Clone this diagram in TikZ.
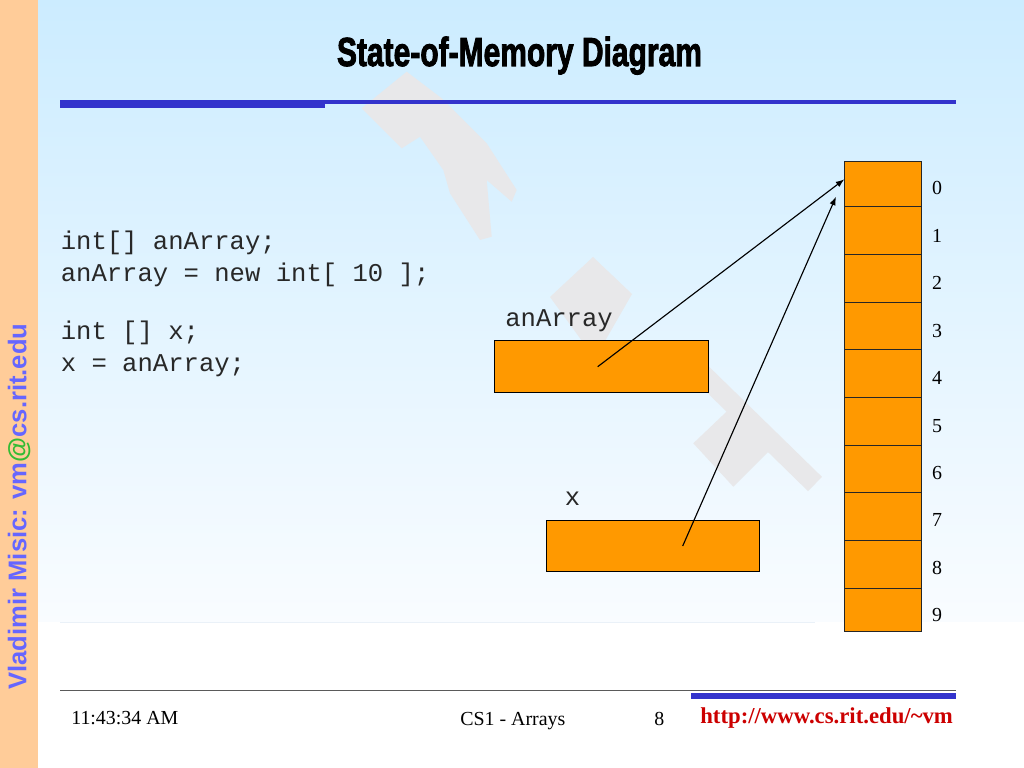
\documentclass[tikz,border=0pt]{standalone}
\usepackage{fontspec}
\setmainfont{Liberation Serif}
\setmonofont{Liberation Mono}
\newfontfamily\arialf{Liberation Sans}
\newfontfamily\titlef{Liberation Sans}[FakeBold=2.5]
\usetikzlibrary{arrows.meta}
\definecolor{bgtop}{RGB}{204,236,255}
\definecolor{bgbot}{RGB}{249,252,255}
\definecolor{sidebar}{RGB}{255,204,153}
\definecolor{sidetext}{RGB}{102,102,255}
\definecolor{atgreen}{RGB}{51,187,51}
\definecolor{barblue}{RGB}{51,51,204}
\definecolor{orangefill}{RGB}{255,153,0}
\definecolor{urlred}{RGB}{204,0,0}
\definecolor{footgray}{RGB}{90,90,90}
\definecolor{wm}{RGB}{232,232,234}
\definecolor{faint}{RGB}{234,241,248}
\definecolor{codetext}{RGB}{40,40,40}
\begin{document}
\begin{tikzpicture}[x=0.703125pt,y=-0.703125pt,
  refbox/.style={draw=black,line width=0.7pt,fill=orangefill,inner sep=0pt},
  cell/.style={draw=black!85,line width=0.7pt,fill=orangefill,inner sep=0pt,minimum width=54.4pt},
  code/.style={anchor=base west,inner sep=0pt,text=codetext,font=\ttfamily\fontsize{18}{21.8}\selectfont},
  idx/.style={anchor=base,inner sep=0pt,font=\fontsize{14}{16}\selectfont},
  foot/.style={anchor=base west,inner sep=0pt,font=\fontsize{14}{16}\selectfont},
  ptr/.style={draw=black,line width=0.8pt,-{Latex[length=6pt,width=4.5pt]}}]
\useasboundingbox (0,0) rectangle (1024,768);
% background
\shade[top color=bgtop,bottom color=bgbot] (38,0) rectangle (1024,622);
\fill[white] (38,622) rectangle (1024,768);
\fill[sidebar] (0,0) rectangle (38,768);
\draw[faint,line width=0.7pt] (60,622) -- (815,622);
% watermark
\fill[wm] (406.7,71.7) -- (441.7,98.3) -- (486.7,143.3) -- (516.7,190) -- (511.7,201.7)
  -- (486.7,180) -- (491.7,236.7) -- (480,240) -- (450,193.3) -- (443.3,170)
  -- (420,136.7) -- (401.7,148.3) -- (361.7,108.3) -- cycle;
\fill[wm] (593,257) -- (632,294) -- (605,341) -- (582,341) -- (550,297) -- cycle;
\draw[wm,line width=14pt] (690,362) -- (815,484);
\fill[wm] (693.3,443.3) -- (733.3,486.7) -- (768.3,451.7) -- (728.3,410) -- cycle;
% title
\node[anchor=base,inner sep=0pt,font=\titlef\bfseries\fontsize{28.5}{30}\selectfont] (title) at (519.5,66)
  {\scalebox{0.74}[1]{State-of-Memory Diagram}};
\fill[barblue] (60,100) rectangle (325,108);
\fill[barblue] (325,100) rectangle (956,104);
% sidebar text
\node[rotate=90,anchor=base,inner sep=0pt,text=sidetext,font=\arialf\bfseries\fontsize{18}{20}\selectfont] (author) at (26.5,506.5)
  {Vladimir Misic: vm\textcolor{atgreen}{@}cs.rit.edu};
% code
\node[code] (l1) at (60.5,250) {int[] anArray;};
\node[code] (l2) at (60.5,281) {anArray = new int[ 10 ];};
\node[code] (l3) at (60.5,340) {int [] x;};
\node[code] (l4) at (60.5,371) {x = anArray;};
% reference variables
\node[code] (lblA) at (505,326.7) {anArray};
\node[refbox,minimum width=150.8pt,minimum height=35.9pt] (boxA) at (601.25,366.5) {};
\node[code] (lblX) at (564.5,505) {x};
\node[refbox,minimum width=150.1pt,minimum height=36.2pt] (boxX) at (652.75,545.75) {};
% memory cells
\foreach \i/\t/\b in {0/161.7/206.7,1/206.7/254.3,2/254.3/302,3/302/349.3,4/349.3/397.3,
                      5/397.3/445,6/445/492.7,7/492.7/540.7,8/540.7/588.7,9/588.7/631}{
  \node[cell,minimum height={(\b-\t)*0.703125pt}] (c\i) at (883,{(\t+\b)/2}) {};
  \node[idx] (n\i) at (937,{195+47.4*\i}) {\i};
}
% arrows
\coordinate (pA) at (597.7,366.7);
\coordinate (pX) at (682.7,546);
\coordinate (tA) at (844.3,179.3);
\coordinate (tX) at (836,196.7);
\draw[ptr] (pA) -- (tA);
\draw[ptr] (pX) -- (tX);
% footer
\draw[footgray,line width=1.1pt] (60,690.5) -- (956,690.5);
\fill[barblue] (691,692.7) rectangle (956,699.3);
\node[foot] (time) at (71,724.5) {11:43:34 AM};
\node[foot] (course) at (460,725) {CS1 - Arrays};
\node[foot] (page) at (654,725) {8};
\node[foot,text=urlred,font=\bfseries\fontsize{16}{18}\selectfont] (url) at (700,723.5) {http://www.cs.rit.edu/\textasciitilde vm};
\end{tikzpicture}
\end{document}
